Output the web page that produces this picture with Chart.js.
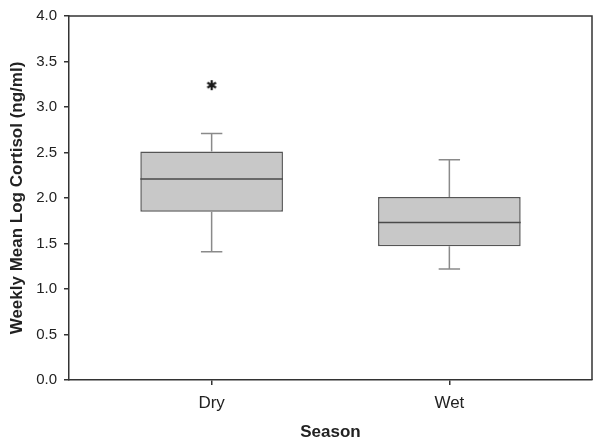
<!DOCTYPE html>
<html><head><meta charset="utf-8">
<script src="https://cdn.jsdelivr.net/npm/chart.js@4/dist/chart.umd.min.js"></script>
<style>html,body{margin:0;padding:0;background:#fff}#wrap{width:600px;height:445px;position:relative}</style>
</head><body><div id="wrap"><canvas id="c"></canvas></div>
<script>
// ---- data ----
const seasons = ['Dry', 'Wet'];
const positions = [1, 2];
const lowerWhisker = [1.41, 1.22];
const q1 = [1.85, 1.47];
const median = [2.21, 1.73];
const q3 = [2.51, 2.01];
const upperWhisker = [2.71, 2.42];
const outlierValues = [3.24];
const outlierPositions = [1];
const yTickValues = [0, 0.5, 1.0, 1.5, 2.0, 2.5, 3.0, 3.5, 4.0];

// ---- styles ----
const TEXT = '#222';
const FRAME = '#333';
const CAP_HALF = 0.045; // whisker cap half-width in x units

// asterisk marker image
function asteriskImage() {
  const s = 14, c = document.createElement('canvas');
  c.width = s; c.height = s;
  const g = c.getContext('2d');
  g.strokeStyle = '#1a1a1a'; g.lineWidth = 2.2; g.lineCap = 'butt';
  const r = 5, cx = s / 2, cy = s / 2;
  for (let k = 0; k < 3; k++) {
    const a = Math.PI / 2 + k * Math.PI / 3;
    g.beginPath();
    g.moveTo(cx - r * Math.cos(a), cy - r * Math.sin(a));
    g.lineTo(cx + r * Math.cos(a), cy + r * Math.sin(a));
    g.stroke();
  }
  return c;
}

const boxPlugin = {
  id: 'boxParts',
  afterDatasetsDraw(chart) {
    const ctx = chart.ctx, xs = chart.scales.x, ys = chart.scales.y;
    const meta = chart.getDatasetMeta(0);
    ctx.save();
    positions.forEach((p, i) => {
      const x = xs.getPixelForValue(p);
      const c0 = xs.getPixelForValue(p - CAP_HALF), c1 = xs.getPixelForValue(p + CAP_HALF);
      const yLo = ys.getPixelForValue(lowerWhisker[i]);
      const yQ1 = ys.getPixelForValue(q1[i]);
      const yQ3 = ys.getPixelForValue(q3[i]);
      const yHi = ys.getPixelForValue(upperWhisker[i]);
      ctx.strokeStyle = '#8a8a8a'; ctx.lineWidth = 1.5;
      ctx.beginPath();
      ctx.moveTo(x, yQ3); ctx.lineTo(x, yHi);
      ctx.moveTo(c0, yHi); ctx.lineTo(c1, yHi);
      ctx.moveTo(x, yQ1); ctx.lineTo(x, yLo);
      ctx.moveTo(c0, yLo); ctx.lineTo(c1, yLo);
      ctx.stroke();
      const el = meta.data[i];
      const yM = ys.getPixelForValue(median[i]);
      ctx.strokeStyle = '#4a4a4a'; ctx.lineWidth = 1.5;
      ctx.beginPath();
      ctx.moveTo(el.x - el.width / 2, yM); ctx.lineTo(el.x + el.width / 2, yM);
      ctx.stroke();
    });
    // top and right frame
    const a = chart.chartArea;
    ctx.strokeStyle = FRAME; ctx.lineWidth = 1.5;
    ctx.beginPath();
    ctx.moveTo(a.left, a.top); ctx.lineTo(a.right, a.top); ctx.lineTo(a.right, a.bottom);
    ctx.stroke();
    ctx.restore();
  }
};

new Chart(document.getElementById('c'), {
  type: 'bar',
  data: {
    datasets: [{
      label: 'Box',
      data: positions.map((p, i) => ({ x: p, y: [q1[i], q3[i]] })),
      backgroundColor: '#c8c8c8',
      borderColor: '#555',
      borderWidth: 1.5,
      borderSkipped: false,
      categoryPercentage: 1,
      barPercentage: 0.6
    }, {
      type: 'scatter',
      label: 'Outlier',
      data: outlierPositions.map((p, i) => ({ x: p, y: outlierValues[i] })),
      pointStyle: asteriskImage(),
      pointRadius: 7
    }]
  },
  options: {
    responsive: true,
    maintainAspectRatio: false,
    animation: false,
    devicePixelRatio: 1,
    layout: { padding: { top: 12, right: 8, left: 0, bottom: 0 } },
    plugins: { legend: { display: false }, tooltip: { enabled: false } },
    scales: {
      x: {
        type: 'linear',
        min: 0.4, max: 2.6,
        offset: false,
        afterBuildTicks: s => { s.ticks = positions.map(v => ({ value: v })); },
        afterFit: s => { s.height = 65; },
        ticks: {
          callback: v => seasons[positions.indexOf(v)] ?? '',
          font: { family: 'Liberation Sans, Arial, sans-serif', size: 17 },
          color: TEXT, padding: 8, maxRotation: 0, autoSkip: false
        },
        grid: { display: true, drawOnChartArea: false, drawTicks: true, tickLength: 5, color: FRAME, lineWidth: 1.5, offset: false },
        border: { display: true, color: FRAME, width: 1.5 },
        title: { display: true, text: 'Season', color: TEXT, padding: { top: 0, bottom: 2 },
          font: { family: 'Liberation Sans, Arial, sans-serif', size: 17, weight: 'bold' } }
      },
      y: {
        min: 0, max: 4,
        afterBuildTicks: s => { s.ticks = yTickValues.map(v => ({ value: v })); },
        afterFit: s => { s.width = 69; },
        ticks: {
          callback: v => v.toFixed(1),
          font: { family: 'Liberation Sans, Arial, sans-serif', size: 15 },
          color: TEXT, padding: 7
        },
        grid: { display: true, drawOnChartArea: false, drawTicks: true, tickLength: 5, color: FRAME, lineWidth: 1.5 },
        border: { display: true, color: FRAME, width: 1.5 },
        title: { display: true, text: 'Weekly Mean Log Cortisol (ng/ml)', color: TEXT, padding: { top: 7, bottom: 0 },
          font: { family: 'Liberation Sans, Arial, sans-serif', size: 17, weight: 'bold' } }
      }
    }
  },
  plugins: [boxPlugin]
});
</script>
</body></html>
